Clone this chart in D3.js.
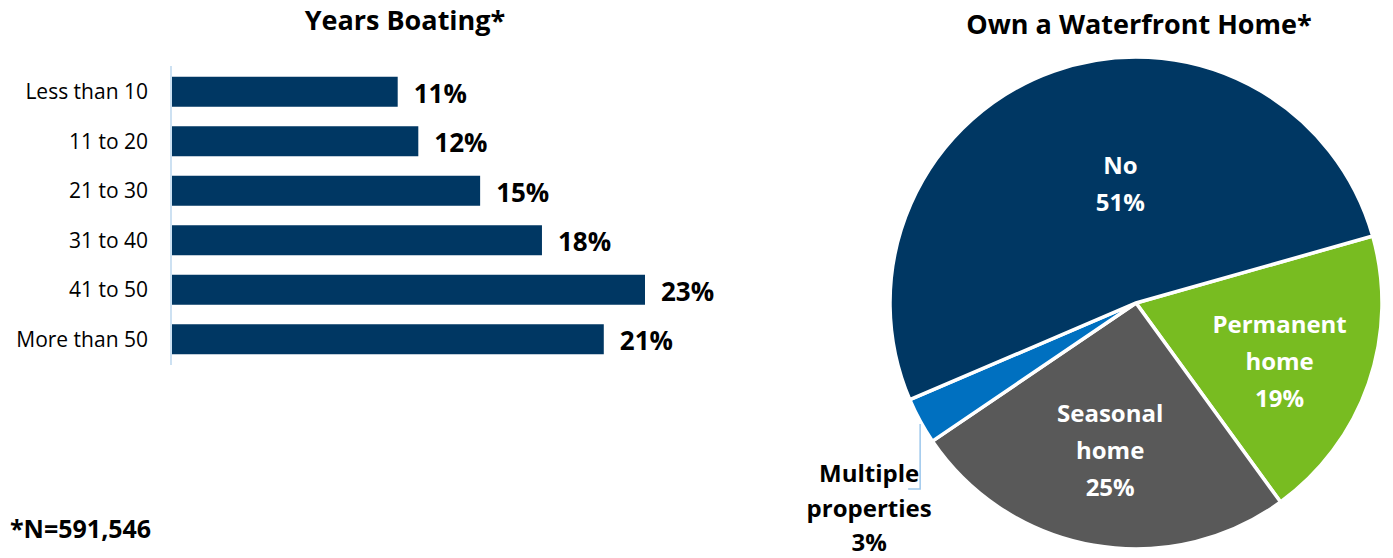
<!DOCTYPE html>
<html>
<head>
<meta charset="utf-8">
<script src="https://cdn.jsdelivr.net/npm/d3@7"></script>
<style>
  body { margin: 0; background: #fff; }
  svg { display: block; }
  text { font-family: "Liberation Sans Narrow", "Open Sans", sans-serif; }
  .pie text { font-family: "Open Sans", sans-serif; }
</style>
</head>
<body>
<svg id="chart" width="1393" height="558"></svg>
<script>
// years boating
var yearCats = ['Less than 10', '11 to 20', '21 to 30', '31 to 40', '41 to 50', 'More than 50']
var yearVals = [11, 12, 15, 18, 23, 21]

// waterfront home (clockwise from the No/Permanent boundary)
var homeCats = ['Permanent home', 'Seasonal home', 'Multiple properties', 'No']
var homeVals = [19, 25, 3, 51]
var homeColors = ['#78bc21', '#595959', '#0070c0', '#003763']

var svg = d3.select('#chart')

// ---- bar chart
var x = d3.scaleLinear().domain([0, 23]).range([171, 645])
var y = d3.scaleBand().domain(yearCats).range([67, 364]).paddingInner(0.394).paddingOuter(0.197)

svg.append('text')
  .attr('x', 405).attr('y', 30)
  .attr('text-anchor', 'middle')
  .attr('font-size', 27).attr('font-weight', 'bold')
  .text('Years Boating*')

svg.append('line')
  .attr('x1', x(0)).attr('x2', x(0))
  .attr('y1', 66).attr('y2', 365)
  .attr('stroke', '#bcd7ee').attr('stroke-width', 1.5)

svg.selectAll('rect.bar').data(yearVals).join('rect')
  .attr('class', 'bar')
  .attr('x', x(0) + 1)
  .attr('y', (d, i) => y(yearCats[i]))
  .attr('width', d => x(d) - x(0) - 1)
  .attr('height', y.bandwidth())
  .attr('fill', '#003763')

svg.selectAll('text.cat').data(yearCats).join('text')
  .attr('class', 'cat')
  .attr('x', 148)
  .attr('y', d => y(d) + y.bandwidth() / 2)
  .attr('dy', '0.35em')
  .attr('text-anchor', 'end')
  .attr('font-size', 21)
  .text(d => d)

svg.selectAll('text.val').data(yearVals).join('text')
  .attr('class', 'val')
  .attr('x', d => x(d) + 16)
  .attr('y', (d, i) => y(yearCats[i]) + y.bandwidth() / 2 + 2)
  .attr('dy', '0.35em')
  .attr('font-size', 26).attr('font-weight', 'bold')
  .text(d => d + '%')

svg.append('text')
  .attr('x', 10).attr('y', 538)
  .attr('font-size', 25).attr('font-weight', 'bold')
  .text('*N=591,546')

// ---- pie chart
var cx = 1136, cy = 303, r = 246
var startA = 74.2 * Math.PI / 180
var pie = d3.pie().sort(null).startAngle(startA).endAngle(startA + 2 * Math.PI)
var arcs = pie(homeVals)
var arc = d3.arc().innerRadius(0).outerRadius(r)

var g = svg.append('g').attr('class', 'pie').attr('transform', `translate(${cx},${cy})`)

svg.append('text')
  .attr('x', 1139).attr('y', 34)
  .attr('text-anchor', 'middle')
  .attr('font-size', 27).attr('font-weight', 'bold')
  .attr('font-family', '"Open Sans", sans-serif')
  .text('Own a Waterfront Home*')

g.selectAll('path').data(arcs).join('path')
  .attr('d', arc)
  .attr('fill', (d, i) => homeColors[i])
  .attr('stroke', '#fff').attr('stroke-width', 3.5)

// label spots: radius and angle nudge per slice
var place = {
  'Permanent home': {rad: 155, da: 3},
  'Seasonal home': {rad: 150, da: 0},
  'No': {rad: 120, da: 12}
}

function lines(name, v) {
  return name.split(' ').concat([v + '%'])
}

arcs.forEach((d, i) => {
  var name = homeCats[i]
  var mid = (d.startAngle + d.endAngle) / 2
  var ls = lines(name, d.value)
  if (place[name]) {
    var p = place[name]
    var a = mid + p.da * Math.PI / 180
    var lx = p.rad * Math.sin(a), ly = -p.rad * Math.cos(a)
    g.append('text')
      .attr('text-anchor', 'middle')
      .attr('font-size', 24).attr('font-weight', 'bold')
      .attr('fill', '#fff')
      .selectAll('tspan').data(ls).join('tspan')
      .attr('x', lx)
      .attr('y', (t, j) => ly + (j - (ls.length - 1) / 2) * 37)
      .attr('dy', '0.35em')
      .text(t => t)
  } else {
    // outside label with leader line
    var ex = r * Math.sin(mid), ey = -r * Math.cos(mid)
    var lx = ex - 51, ly = ey + 53
    g.append('path')
      .attr('d', `M${ex},${ey + 3}V${ey + 68}H${ex - 12}`)
      .attr('fill', 'none').attr('stroke', '#9cc7ec').attr('stroke-width', 1.5)
    g.append('text')
      .attr('text-anchor', 'middle')
      .attr('font-size', 24).attr('font-weight', 'bold')
      .attr('fill', '#000')
      .selectAll('tspan').data(ls).join('tspan')
      .attr('x', lx)
      .attr('y', (t, j) => ly + j * 34.5)
      .attr('dy', '0.35em')
      .text(t => t)
  }
})
</script>
</body>
</html>
